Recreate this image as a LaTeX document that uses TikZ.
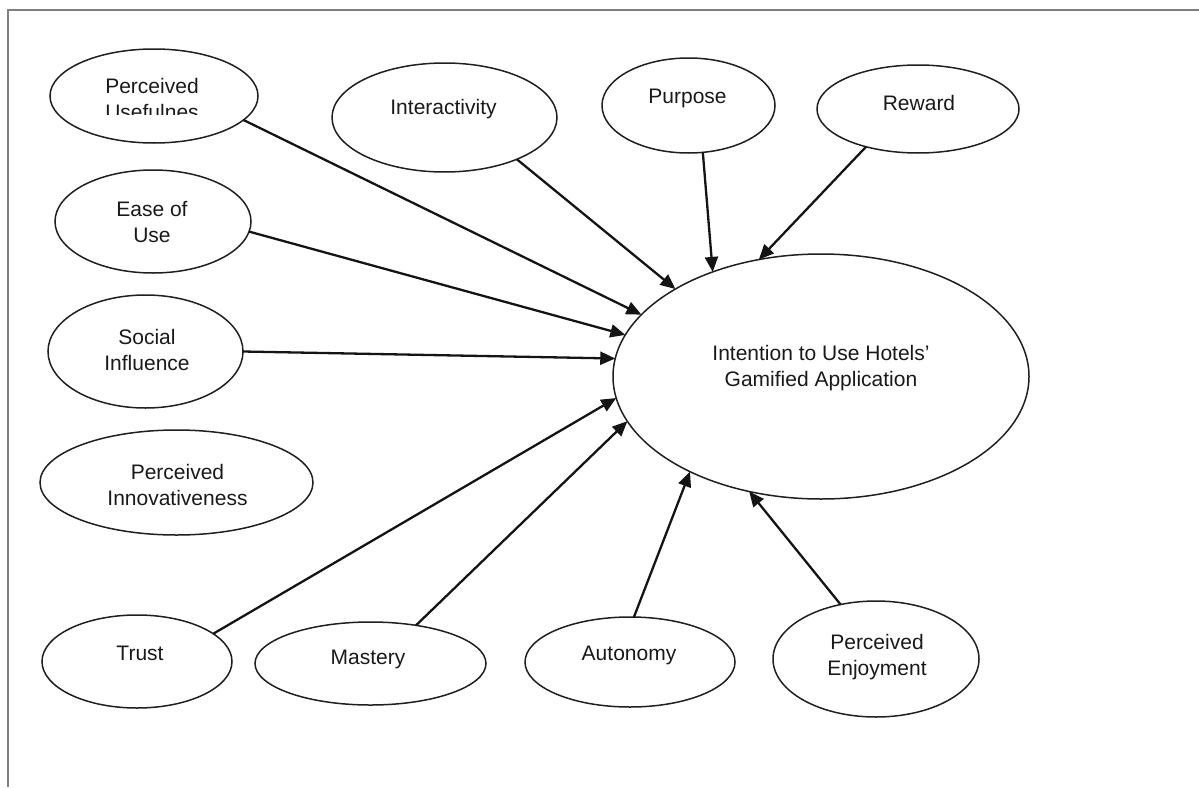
\documentclass[tikz,border=0pt]{standalone}
\usepackage{fontspec}
\setmainfont{Liberation Sans}
\usetikzlibrary{arrows.meta,shapes.geometric}
\begin{document}
\begin{tikzpicture}[x=1pt,y=-1pt,
  construct/.style={draw=black!88, line width=1.5pt, ellipse, inner sep=0pt, outer sep=0pt},
  caption/.style={font=\fontsize{21}{26}\selectfont, text=black!90, align=center, inner sep=0pt},
  link/.style={-{Triangle[length=15pt,width=13pt]}, line width=2.3pt, draw=black!92}]
\useasboundingbox (0,0) rectangle (1199,787);

% frame (top and left edges)
\draw[gray, line width=1.6pt] (1199,10) -- (8,10) -- (8,787);

% constructs
\node[construct, minimum width=208pt, minimum height=94pt]  (pu)    at (154,96) {};
\node[construct, minimum width=225pt, minimum height=109pt] (inter) at (444.5,117.5) {};
\node[construct, minimum width=173pt, minimum height=95pt]  (purp)  at (688.5,105.5) {};
\node[construct, minimum width=202pt, minimum height=88pt]  (rew)   at (918,109) {};
\node[construct, minimum width=196pt, minimum height=103pt] (eou)   at (153,221.5) {};
\node[construct, minimum width=195pt, minimum height=113pt] (si)    at (145.5,351.5) {};
\node[construct, minimum width=273pt, minimum height=105pt] (pi)    at (176.5,482.5) {};
\node[construct, minimum width=190pt, minimum height=93pt]  (trust) at (137,661.5) {};
\node[construct, minimum width=231pt, minimum height=83pt]  (mast)  at (370.5,663.5) {};
\node[construct, minimum width=210pt, minimum height=90pt]  (auto)  at (630,662) {};
\node[construct, minimum width=206pt, minimum height=116pt] (enj)   at (876,659) {};
\node[construct, minimum width=416pt, minimum height=245pt] (big)   at (821,376.5) {};

% labels (the second line of the first box is cut off by its text frame)
\begin{scope}
  \clip (0,0) rectangle (1199,114);
  \node[caption] (pu-t) at (152,99) {Perceived\\Usefulnes};
\end{scope}
\node[caption] (inter-t) at (443.5,109) {Interactivity};
\node[caption] (purp-t)  at (687.5,98)  {Purpose};
\node[caption] (rew-t)   at (919,103)   {Reward};
\node[caption] (eou-t)   at (152,222)   {Ease of\\Use};
\node[caption] (si-t)    at (147,350)   {Social\\Influence};
\node[caption] (pi-t)    at (177.5,485) {Perceived\\Innovativeness};
\node[caption] (trust-t) at (140,653)   {Trust};
\node[caption] (mast-t)  at (368,659)   {Mastery};
\node[caption] (auto-t)  at (629,655)   {Autonomy};
\node[caption] (enj-t)   at (877,657)   {Perceived\\Enjoyment};
\node[caption] (big-t)   at (821,368)   {Intention to Use Hotels’\\Gamified Application};

% paths into the outcome
\draw[link] (pu.-15.5)   -- (big.161.2);
\draw[link] (inter.-30)  -- (big.149.8);
\draw[link] (purp.-73)   -- (big.136.5);
\draw[link] (rew.216.3)  -- (big.118.2);
\draw[link] (eou.-6.8)   -- (big.168.5);
\draw[link] (si.-0.9)    -- (big.175);
\draw[link] (trust.20.6) -- (big.186.4);
\draw[link] (mast.40.5)  -- (big.193.5);
\draw[link] (auto.85)    -- (big.216.4);
\draw[link] (enj.123.2)  -- (big.238.3);
\end{tikzpicture}
\end{document}
